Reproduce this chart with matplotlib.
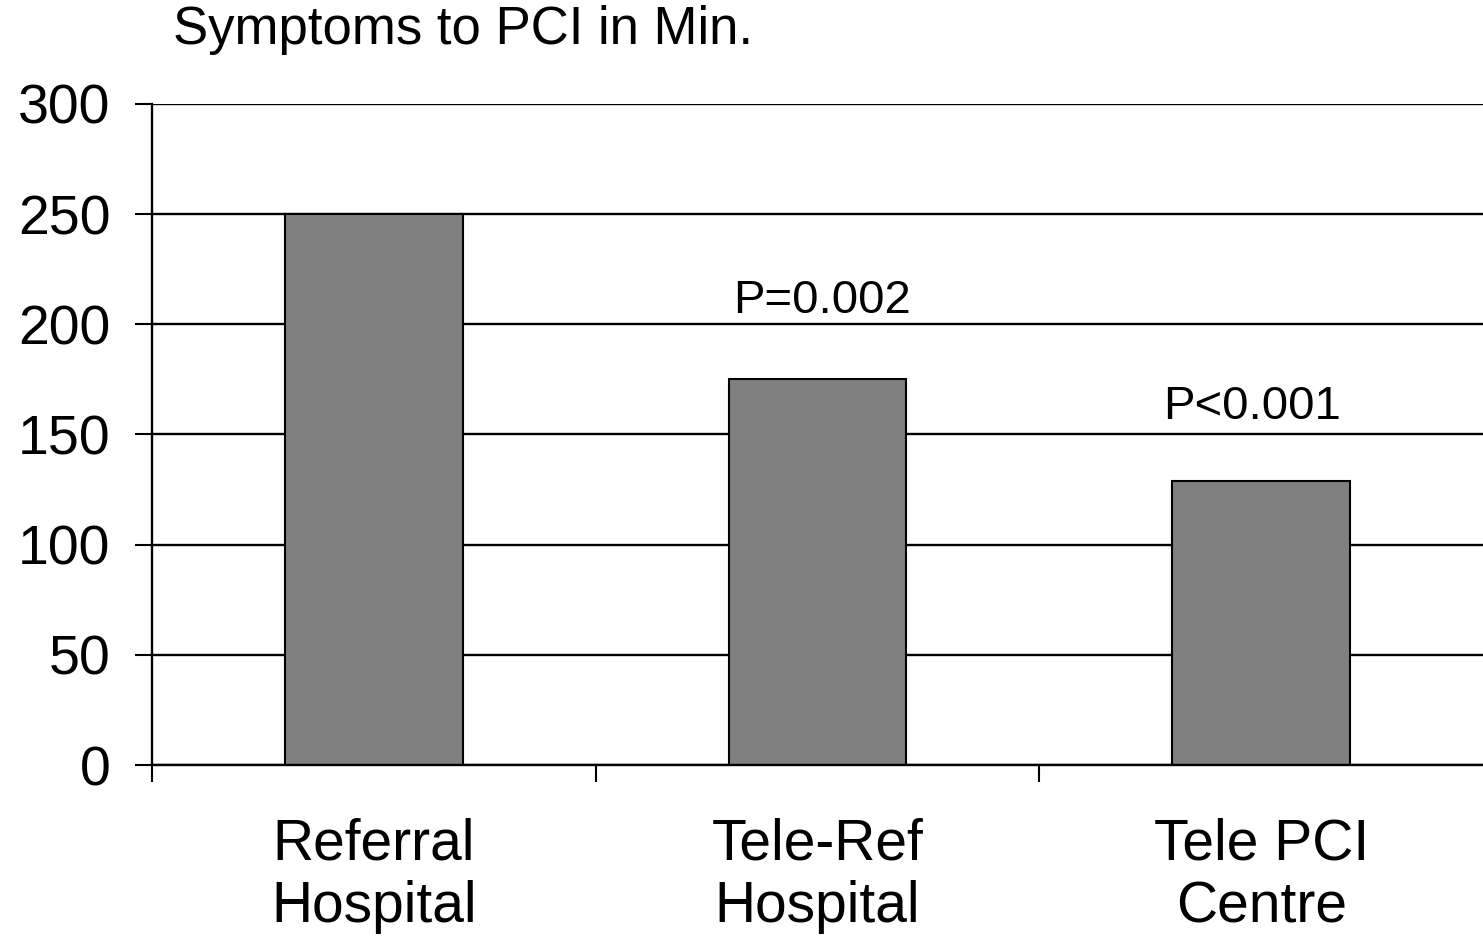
import matplotlib
matplotlib.use('Agg')
import matplotlib.pyplot as plt
import numpy as np

# data
categories = ['Referral\nHospital', 'Tele-Ref\nHospital', 'Tele PCI\nCentre']
minutes = [250, 175, 129]
p_labels = ['P=0.002', 'P<0.001']
p_positions = [(1.01, 205), (1.98, 157)]
yticks = [0, 50, 100, 150, 200, 250, 300]

plt.rcParams['font.family'] = ['Liberation Sans', 'DejaVu Sans']

fig = plt.figure(figsize=(14.83, 9.38), dpi=100)
ax = fig.add_axes([152 / 1483, 1 - 765 / 938, 1 - 152 / 1483, (765 - 104) / 938])

x = np.arange(len(categories))
ax.bar(x, minutes, width=0.4, color='#808080', edgecolor='black',
       linewidth=1.5, zorder=3)

ax.set_xlim(-0.5, len(categories) - 0.5)
ax.set_ylim(0, 300)
ax.set_yticks(yticks)
ax.yaxis.grid(True, color='black', linewidth=1.7, zorder=0)

# category labels between the boundary ticks
ax.set_xticks(x - 0.5)
ax.set_xticklabels([])
ax.set_xticks(x, minor=True)
ax.set_xticklabels(categories, minor=True, fontsize=41, linespacing=1.2)
ax.tick_params(axis='x', which='major', direction='out', length=12,
               width=1.5, color='black')
ax.tick_params(axis='x', which='minor', length=0, pad=38)
ax.tick_params(axis='y', direction='out', length=12, width=1.5,
               labelsize=40, pad=18)

for side in ['top', 'right']:
    ax.spines[side].set_visible(False)
ax.spines['left'].set_linewidth(1.7)
ax.spines['bottom'].set_linewidth(1.7)
ax.spines['bottom'].set_zorder(4)

for text, (px, py) in zip(p_labels, p_positions):
    ax.text(px, py, text, ha='center', va='baseline', fontsize=34)

fig.text(173 / 1483, 1 - 44 / 938, 'Symptoms to PCI in Min.',
         ha='left', va='baseline', fontsize=38)

fig.savefig('out.png', dpi=100)
